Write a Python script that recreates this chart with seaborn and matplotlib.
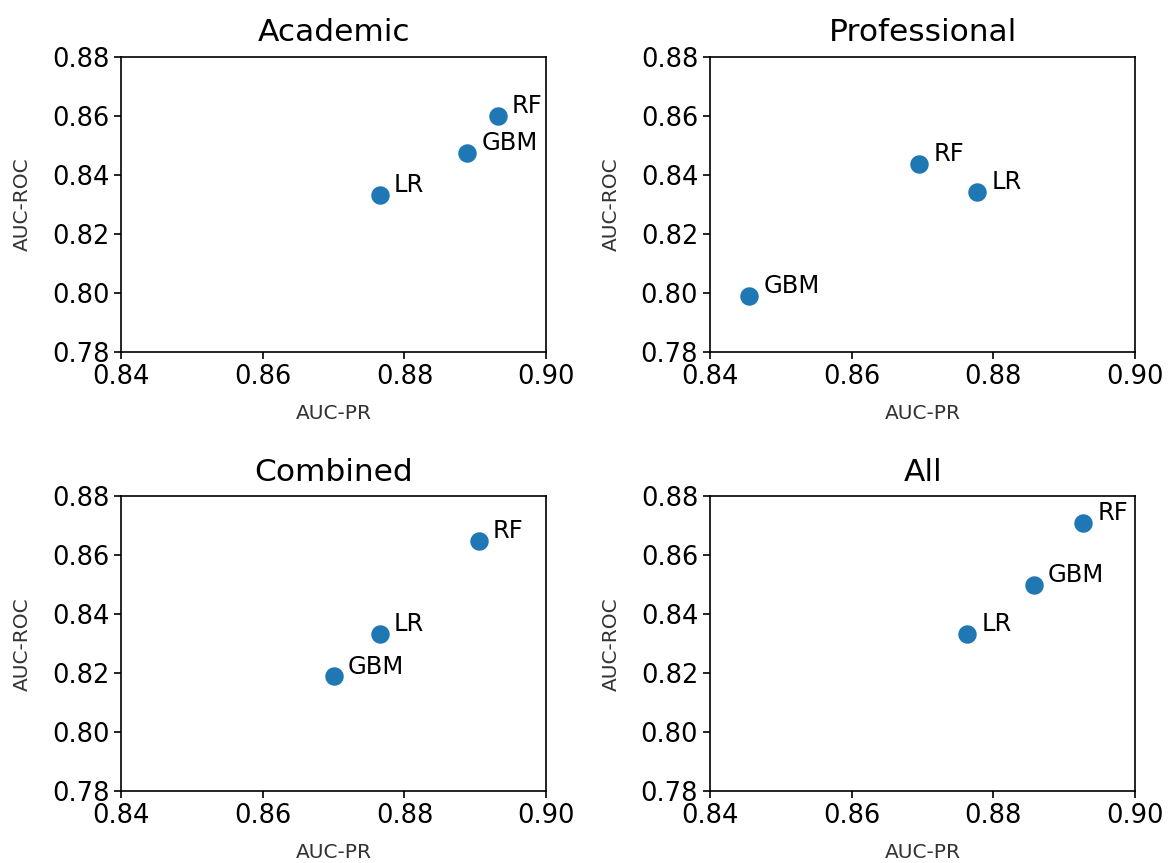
import matplotlib
matplotlib.use("Agg")
import matplotlib.pyplot as plt
import seaborn as sns
import pandas as pd

# Model scores per feature set
models = ["LR", "RF", "GBM"]
panels = ["Academic", "Professional", "Combined", "All"]

auc_pr = {
    "Academic":     [0.8765, 0.8932, 0.8889],
    "Professional": [0.8777, 0.8695, 0.8455],
    "Combined":     [0.8765, 0.8905, 0.8700],
    "All":          [0.8763, 0.8927, 0.8857],
}
auc_roc = {
    "Academic":     [0.8330, 0.8598, 0.8472],
    "Professional": [0.8340, 0.8435, 0.7988],
    "Combined":     [0.8332, 0.8647, 0.8189],
    "All":          [0.8332, 0.8709, 0.8498],
}

x_ticks = [0.84, 0.86, 0.88, 0.90]
y_ticks = [0.78, 0.80, 0.82, 0.84, 0.86, 0.88]

plt.rcParams.update({
    "axes.linewidth": 1.2,
    "xtick.major.width": 1.2,
    "ytick.major.width": 1.2,
    "xtick.major.size": 5.2,
    "ytick.major.size": 5.2,
    "xtick.labelsize": 18.5,
    "ytick.labelsize": 18.5,
})

fig, axes = plt.subplots(2, 2, figsize=(11.69, 8.63), dpi=100)
fig.subplots_adjust(left=0.1038, right=0.9709, bottom=0.0831, top=0.9345,
                    wspace=0.387, hspace=0.49)

for ax, name in zip(axes.flat, panels):
    df = pd.DataFrame({"model": models, "AUC-PR": auc_pr[name], "AUC-ROC": auc_roc[name]})
    sns.scatterplot(data=df, x="AUC-PR", y="AUC-ROC", ax=ax, s=210,
                    color="#1f77b4", edgecolor="white", linewidth=1.2)
    for _, row in df.iterrows():
        ax.text(row["AUC-PR"] + 0.002, row["AUC-ROC"] + 0.001, row["model"],
                fontsize=17.5)
    ax.set_xlim(0.84, 0.90)
    ax.set_ylim(0.78, 0.88)
    ax.set_xticks(x_ticks)
    ax.set_yticks(y_ticks)
    ax.set_xticklabels([f"{t:.2f}" for t in x_ticks])
    ax.set_yticklabels([f"{t:.2f}" for t in y_ticks])
    ax.set_title(name, fontsize=22.5, pad=11)
    ax.set_xlabel("AUC-PR", fontsize=14.5, color="#333333", labelpad=10)
    ax.set_ylabel("AUC-ROC", fontsize=14.5, color="#333333", labelpad=14)

fig.savefig("out.png", dpi=100)
